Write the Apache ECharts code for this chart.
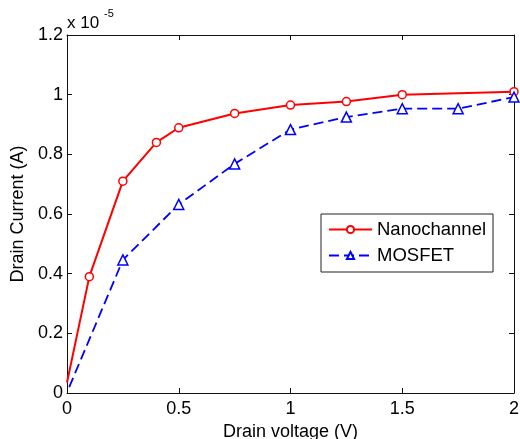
<!DOCTYPE html>
<html>
<head>
<meta charset="utf-8">
<script src="https://cdn.jsdelivr.net/npm/echarts@6/dist/echarts.min.js"></script>
<style>
html,body{margin:0;padding:0;background:#fff;}
#chart{width:520px;height:439px;}
</style>
</head>
<body>
<div id="chart"></div>
<script>
// Data (current in units of 1e-5 A)
var seriesNames = ['Nanochannel', 'MOSFET'];
var nanoX = [0, 0.1, 0.25, 0.4, 0.5, 0.75, 1.0, 1.25, 1.5, 2.0];
var nanoY = [0.035, 0.39, 0.71, 0.84, 0.889, 0.937, 0.965, 0.977, 1.0, 1.01];
var mosX = [0.01, 0.25, 0.5, 0.75, 1.0, 1.25, 1.5, 1.75, 2.0];
var mosY = [0.02, 0.446, 0.632, 0.768, 0.883, 0.925, 0.953, 0.953, 0.992];
var xTicks = [0, 0.5, 1, 1.5, 2];
var yTicks = [0, 0.2, 0.4, 0.6, 0.8, 1, 1.2];
var xTitle = 'Drain voltage (V)';
var yTitle = 'Drain Current (A)';
var exponentText = 'x 10';
var exponentSup = '-5';

// first point of each curve is drawn without a marker
function pairs(xs, ys) {
  return xs.map(function (x, i) {
    return i === 0 ? {value: [x, ys[i]], symbol: 'none'} : [x, ys[i]];
  });
}

var FONT = 'Liberation Sans, Arial, sans-serif';
var chart = echarts.init(document.getElementById('chart'), null, {renderer: 'canvas'});

function fmt(v) { return String(+v.toFixed(2)); }

var axisCommon = {
  axisLine: {show: true, onZero: false, lineStyle: {color: '#111', width: 1}},
  axisTick: {show: true, inside: true, length: 5, lineStyle: {color: '#111'}},
  splitLine: {show: false}
};

var option = {
  animation: false,
  backgroundColor: '#fff',
  grid: {left: 67, top: 35, right: 6, bottom: 46, containLabel: false, outerBoundsMode: 'none'},
  xAxis: [
    Object.assign({
      type: 'value', min: 0, max: 2, interval: 0.5, position: 'bottom',
      name: xTitle, nameLocation: 'middle', nameGap: 28,
      nameTextStyle: {fontFamily: FONT, fontSize: 18, color: '#000'},
      axisLabel: {show: true, margin: 7, fontFamily: FONT, fontSize: 18, color: '#000',
        formatter: function (v) { return xTicks.indexOf(v) >= 0 ? fmt(v) : ''; }}
    }, axisCommon),
    Object.assign({
      type: 'value', min: 0, max: 2, interval: 0.5, position: 'top',
      axisLabel: {show: false}
    }, axisCommon)
  ],
  yAxis: [
    Object.assign({
      type: 'value', min: 0, max: 1.2, interval: 0.2, position: 'left',
      name: yTitle, nameLocation: 'middle', nameGap: 38,
      nameTextStyle: {fontFamily: FONT, fontSize: 18, color: '#000'},
      axisLabel: {show: true, margin: 4, fontFamily: FONT, fontSize: 18, color: '#000',
        formatter: function (v) { return yTicks.some(function (t) { return Math.abs(t - v) < 1e-9; }) ? fmt(v) : ''; }}
    }, axisCommon),
    Object.assign({
      type: 'value', min: 0, max: 1.2, interval: 0.2, position: 'right',
      axisLabel: {show: false}
    }, axisCommon)
  ],
  legend: {
    show: true, orient: 'vertical', left: 321, top: 214,
    padding: [6, 7, 7, 7],
    borderColor: '#222', borderWidth: 1, backgroundColor: '#fff',
    itemWidth: 43, itemHeight: 9, itemGap: 7,
    textStyle: {fontFamily: FONT, fontSize: 18.5, color: '#000'},
    data: seriesNames
  },
  graphic: [
    {type: 'text', left: 67, top: 15, style: {text: exponentText, font: '17px ' + FONT, fill: '#000'}},
    {type: 'text', left: 104, top: 8, style: {text: exponentSup, font: '11px ' + FONT, fill: '#000'}}
  ],
  series: [
    {
      name: seriesNames[0], type: 'line', xAxisIndex: 0, yAxisIndex: 0,
      data: pairs(nanoX, nanoY),
      symbol: 'circle', symbolSize: 8, showAllSymbol: true,
      lineStyle: {color: '#ff0000', width: 2},
      itemStyle: {color: '#fff', borderColor: '#ff0000', borderWidth: 1.5},
      emphasis: {disabled: true}
    },
    {
      name: seriesNames[1], type: 'line', xAxisIndex: 0, yAxisIndex: 0,
      data: pairs(mosX, mosY),
      symbol: 'triangle', symbolSize: 10, showAllSymbol: true,
      lineStyle: {color: '#0000ff', width: 1.8, type: [10, 5]},
      itemStyle: {color: '#fff', borderColor: '#0000ff', borderWidth: 1.5},
      emphasis: {disabled: true}
    }
  ]
};
chart.setOption(option);
</script>
</body>
</html>
